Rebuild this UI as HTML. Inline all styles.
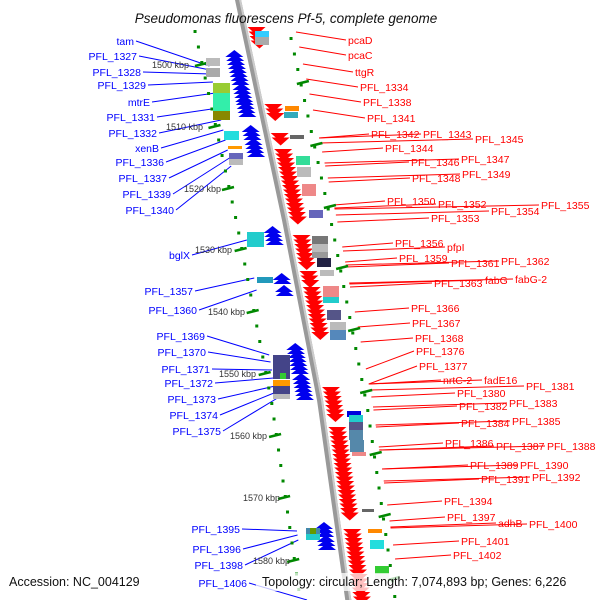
<!DOCTYPE html>
<html><head><meta charset="utf-8"><style>
html,body{margin:0;padding:0;background:#fff;}
svg{display:block;font-family:"Liberation Sans",sans-serif;}
.b{fill:#0000ff;font-size:10.5px;text-anchor:end;}
.r{fill:#ff0000;font-size:10.5px;}
.k{fill:#333;font-size:9px;}
</style></head><body>
<svg id="s" width="600" height="600" viewBox="0 0 600 600" xmlns="http://www.w3.org/2000/svg">
<g id="lines"></g>
<path d="M237,-5 L285,220 L320,400 L349,605" fill="none" stroke="#999" stroke-width="6"/>
<path d="M239,-5 L287,220 L322,400 L351,605" fill="none" stroke="#ccc" stroke-width="2"/>
<g id="deco"></g>
<text x="286" y="23" text-anchor="middle" font-size="13.5" font-style="italic" fill="#111" font-family="Liberation Sans, sans-serif">Pseudomonas fluorescens Pf-5, complete genome</text>
<g class="k">
<text x="152" y="68">1500 kbp</text><text x="166" y="130">1510 kbp</text><text x="184" y="192">1520 kbp</text>
<text x="195" y="253">1530 kbp</text><text x="208" y="315">1540 kbp</text><text x="219" y="377">1550 kbp</text>
<text x="230" y="439">1560 kbp</text><text x="243" y="501">1570 kbp</text><text x="253" y="564">1580 kbp</text>
</g>
<g id="bl" class="b">
<text x="134" y="45">tam</text><text x="137" y="60">PFL_1327</text><text x="141" y="76">PFL_1328</text>
<text x="146" y="89">PFL_1329</text><text x="150" y="106">mtrE</text><text x="155" y="121">PFL_1331</text>
<text x="157" y="137">PFL_1332</text><text x="159" y="152">xenB</text><text x="164" y="166">PFL_1336</text>
<text x="167" y="182">PFL_1337</text><text x="171" y="198">PFL_1339</text><text x="174" y="214">PFL_1340</text>
<text x="190" y="259">bglX</text><text x="193" y="295">PFL_1357</text><text x="197" y="314">PFL_1360</text>
<text x="205" y="340">PFL_1369</text><text x="206" y="356">PFL_1370</text><text x="210" y="373">PFL_1371</text>
<text x="213" y="387">PFL_1372</text><text x="216" y="403">PFL_1373</text><text x="218" y="419">PFL_1374</text>
<text x="221" y="435">PFL_1375</text><text x="240" y="533">PFL_1395</text><text x="241" y="553">PFL_1396</text>
<text x="243" y="569">PFL_1398</text><text x="247" y="587">PFL_1406</text>
</g>
<g id="rl" class="r">
<text x="348" y="44">pcaD</text><text x="348" y="59">pcaC</text><text x="355" y="76">ttgR</text>
<text x="360" y="91">PFL_1334</text><text x="363" y="106">PFL_1338</text><text x="367" y="122">PFL_1341</text>
<text x="371" y="138">PFL_1342</text><text x="423" y="138">PFL_1343</text><text x="385" y="152">PFL_1344</text>
<text x="475" y="143">PFL_1345</text><text x="411" y="166">PFL_1346</text><text x="461" y="163">PFL_1347</text>
<text x="412" y="182">PFL_1348</text><text x="462" y="178">PFL_1349</text><text x="387" y="205">PFL_1350</text>
<text x="438" y="208">PFL_1352</text><text x="431" y="222">PFL_1353</text><text x="491" y="215">PFL_1354</text>
<text x="541" y="209">PFL_1355</text><text x="395" y="247">PFL_1356</text><text x="447" y="251">pfpI</text>
<text x="399" y="262">PFL_1359</text><text x="451" y="267">PFL_1361</text><text x="501" y="265">PFL_1362</text>
<text x="434" y="287">PFL_1363</text><text x="485" y="284">fabG</text><text x="515" y="283">fabG-2</text>
<text x="411" y="312">PFL_1366</text><text x="412" y="327">PFL_1367</text><text x="415" y="342">PFL_1368</text>
<text x="416" y="355">PFL_1376</text><text x="419" y="370">PFL_1377</text><text x="443" y="384">nrtC-2</text>
<text x="484" y="384">fadE16</text><text x="526" y="390">PFL_1381</text><text x="457" y="397">PFL_1380</text>
<text x="509" y="407">PFL_1383</text><text x="459" y="410">PFL_1382</text><text x="461" y="427">PFL_1384</text>
<text x="512" y="425">PFL_1385</text><text x="445" y="447">PFL_1386</text><text x="496" y="450">PFL_1387</text>
<text x="547" y="450">PFL_1388</text><text x="470" y="469">PFL_1389</text><text x="520" y="469">PFL_1390</text>
<text x="481" y="483">PFL_1391</text><text x="532" y="481">PFL_1392</text><text x="444" y="505">PFL_1394</text>
<text x="447" y="521">PFL_1397</text><text x="498" y="527">adhB</text><text x="529" y="528">PFL_1400</text>
<text x="461" y="545">PFL_1401</text><text x="453" y="559">PFL_1402</text>
</g>
<rect x="256" y="573" width="340" height="18" fill="#fff" opacity="0.75"/>
<text x="9" y="586" font-size="12.5" fill="#111">Accession: NC_004129</text>
<text x="262" y="586" font-size="12.5" fill="#111">Topology: circular; Length: 7,074,893 bp; Genes: 6,226</text>
<script>
(function(){
var NS="http://www.w3.org/2000/svg";
function bb(y){if(y<220)return 237+0.218*y;if(y<400)return 285+0.194*(y-220);return 320+0.145*(y-400);}
function el(p,t,a){var e=document.createElementNS(NS,t);for(var k in a)e.setAttribute(k,a[k]);p.appendChild(e);return e;}
var L=document.getElementById('lines'),D=document.getElementById('deco');
for(var y=30;y<600;y+=15.5){
  el(D,'rect',{x:bb(y)-50,y:y,width:3,height:3,fill:'#080'});
  el(D,'rect',{x:bb(y)+46,y:y+7,width:3,height:3,fill:'#080'});
}
var ks=[64,126,188,249,311,373,435,497,560];
ks.forEach(function(y){el(D,'line',{x1:bb(y)-56,y1:y+2,x2:bb(y)-44,y2:y-1,stroke:'#080','stroke-width':2.5});
 el(D,'line',{x1:bb(y+18)+42,y1:y+20,x2:bb(y+18)+54,y2:y+17,stroke:'#080','stroke-width':2.5});});
var blue=[[52,80],[85,100],[100,112],[127,137],[140,152],[228,240],[275,281],[287,294],[345,372],[375,395],[524,532],[537,545]];
blue.forEach(function(r){for(var y=r[0];y<=r[1];y+=4){var x=bb(y)-14;el(D,'polygon',{points:(x-9)+','+(y+5)+' '+x+','+(y-2)+' '+(x+9)+','+(y+5),fill:'#0000ee'});}});
var red=[[30,46],[107,118],[136,141],[152,222],[238,265],[274,283],[290,338],[390,420],[430,518],[532,600]];
red.forEach(function(r){for(var y=r[0];y<=r[1];y+=4.5){var x=bb(y)+13;el(D,'polygon',{points:(x-9)+','+(y-3)+' '+(x+9)+','+(y-3)+' '+x+','+(y+5),fill:'#ff0000'});}});
var bx=[[206,58,14,8,'#bbb'],[206,68,14,9,'#aaa'],[213,83,17,10,'#9c3'],[213,93,17,18,'#3ea'],[213,111,17,9,'#880'],
[224,131,15,9,'#2dd'],[228,146,14,3,'#f90'],[229,153,14,6,'#66b'],[229,159,14,6,'#bbb'],
[247,232,17,15,'#2cc'],[257,277,16,6,'#29b'],[273,355,17,18,'#448'],[273,373,17,6,'#448'],[280,373,6,6,'#3c3'],[273,380,17,6,'#f90'],[273,386,17,8,'#448'],[273,394,17,5,'#bbb'],
[306,528,14,6,'#48a'],[306,534,14,6,'#2cc'],[310,528,6,6,'#690'],
[255,31,14,6,'#3cf'],[255,37,14,8,'#aaa'],[285,106,14,5,'#f80'],[284,112,14,6,'#3ab'],[290,135,14,4,'#666'],
[296,156,14,9,'#3d9'],[297,167,14,10,'#bbb'],[302,184,14,12,'#e88'],[309,210,14,8,'#66b'],
[312,236,16,8,'#777'],[312,244,16,8,'#bbb'],[312,252,16,6,'#999'],[317,258,14,9,'#224'],[320,270,14,6,'#bbb'],
[323,286,16,11,'#e88'],[323,297,16,6,'#2cc'],[327,310,14,10,'#558'],[330,322,16,8,'#bbb'],[330,330,16,10,'#58b'],
[347,411,14,6,'#00d'],[349,415,14,7,'#2cc'],[349,422,14,8,'#558'],[349,430,14,10,'#58a'],[350,440,14,12,'#58a'],[352,452,14,4,'#e88'],
[362,509,12,3,'#666'],[368,529,14,4,'#f80'],[370,540,14,9,'#2dd'],[375,566,14,8,'#3c3'],[375,574,14,5,'#ddd']];
bx.forEach(function(b){el(D,'rect',{x:b[0],y:b[1],width:b[2],height:b[3],fill:b[4]});});
var bt=document.querySelectorAll('#bl text');
var btY=[66,70,74,82,93,108,120,130,140,150,158,166,240,278,290,355,362,370,378,386,392,398,531,535,540,600];
bt.forEach(function(t,i){var x=+t.getAttribute('x'),y=+t.getAttribute('y')-4,ty=btY[i];
 el(L,'line',{x1:x+2,y1:y,x2:bb(ty)-42,y2:ty,stroke:'#00f','stroke-width':1});});
var rt=document.querySelectorAll('#rl text');
rt.forEach(function(t,i){var x=+t.getAttribute('x'),y=+t.getAttribute('y')-4;
 var ty=y+ (y<120? -8 : (y<350? 4 : (y<380? 18 : 4)));
 el(L,'line',{x1:x-2,y1:y,x2:bb(ty)+52,y2:ty,stroke:'#f00','stroke-width':1});});
})();
</script>
</svg>
</body></html>
